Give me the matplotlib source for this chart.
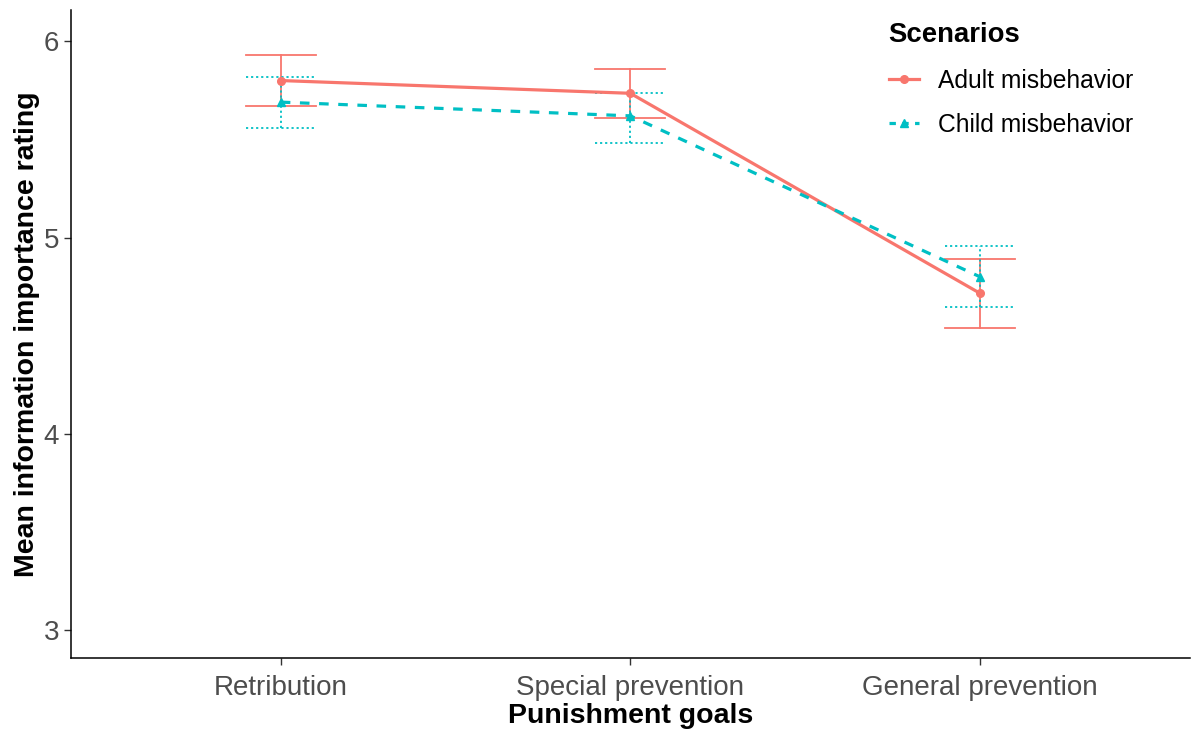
import numpy as np
import matplotlib
matplotlib.use("Agg")
import matplotlib.pyplot as plt
from matplotlib.lines import Line2D

plt.rcParams["font.family"] = ["Liberation Sans", "DejaVu Sans"]

# Mean ratings with error bar limits per punishment goal
goals = ["Retribution", "Special prevention", "General prevention"]
adult_mean = [5.80, 5.735, 4.716]
adult_low = [5.67, 5.61, 4.54]
adult_high = [5.93, 5.86, 4.89]
child_mean = [5.69, 5.62, 4.80]
child_low = [5.56, 5.48, 4.645]
child_high = [5.82, 5.735, 4.955]

RED = "#F8766D"
TEAL = "#00BFC4"

fig = plt.figure(figsize=(11.92, 7.31), dpi=100)
ax = fig.add_axes([0.0596, 0.0999, 0.9384, 0.886])

x = np.arange(1, len(goals) + 1)
cap = 0.1

def draw_bars(ax, xs, lo, hi, color, ls):
    for xi, l, h in zip(xs, lo, hi):
        ax.plot([xi, xi], [l, h], color=color, lw=1.3, ls=ls)
        ax.plot([xi - cap, xi + cap], [l, l], color=color, lw=1.3, ls=ls)
        ax.plot([xi - cap, xi + cap], [h, h], color=color, lw=1.3, ls=ls)

draw_bars(ax, x, adult_low, adult_high, RED, "-")
draw_bars(ax, x, child_low, child_high, TEAL, (0, (1.2, 1.6)))

ax.plot(x, adult_mean, color=RED, lw=2.3, marker="o", ms=5.5, ls="-")
ax.plot(x, child_mean, color=TEAL, lw=2.3, marker="^", ms=5.5, ls=(0, (3, 3)))

ax.set_xlim(0.4, 3.6)
ax.set_ylim(2.857, 6.158)
ax.set_xticks(x)
ax.set_xticklabels(goals)
ax.set_yticks([3, 4, 5, 6])
ax.tick_params(axis="both", labelsize=20, labelcolor="#4D4D4D",
               color="#333333", length=5, width=1)
ax.tick_params(axis="x", pad=7)
for s in ["top", "right"]:
    ax.spines[s].set_visible(False)
for s in ["left", "bottom"]:
    ax.spines[s].set_linewidth(1.1)
    ax.spines[s].set_color("black")

ax.set_xlabel("Punishment goals", fontsize=20.5, fontweight="bold", labelpad=2)
ax.set_ylabel("Mean information importance rating", fontsize=20.5,
              fontweight="bold", labelpad=3)

handles = [
    Line2D([], [], color=RED, lw=2.3, marker="o", ms=5.5, ls="-"),
    Line2D([], [], color=TEAL, lw=2.3, marker="^", ms=5.5, ls=(0, (2, 2))),
]
leg = fig.legend(handles, ["Adult misbehavior", "Child misbehavior"],
                 title="Scenarios", loc="upper left",
                 bbox_to_anchor=(0.727, 1.0), frameon=False, fontsize=17.7,
                 title_fontproperties={"weight": "bold", "size": 19.8},
                 handlelength=1.25, handletextpad=0.75, labelspacing=0.8)
leg._legend_box.align = "left"
leg._legend_box.sep = 15

fig.savefig("out.png", dpi=100)
